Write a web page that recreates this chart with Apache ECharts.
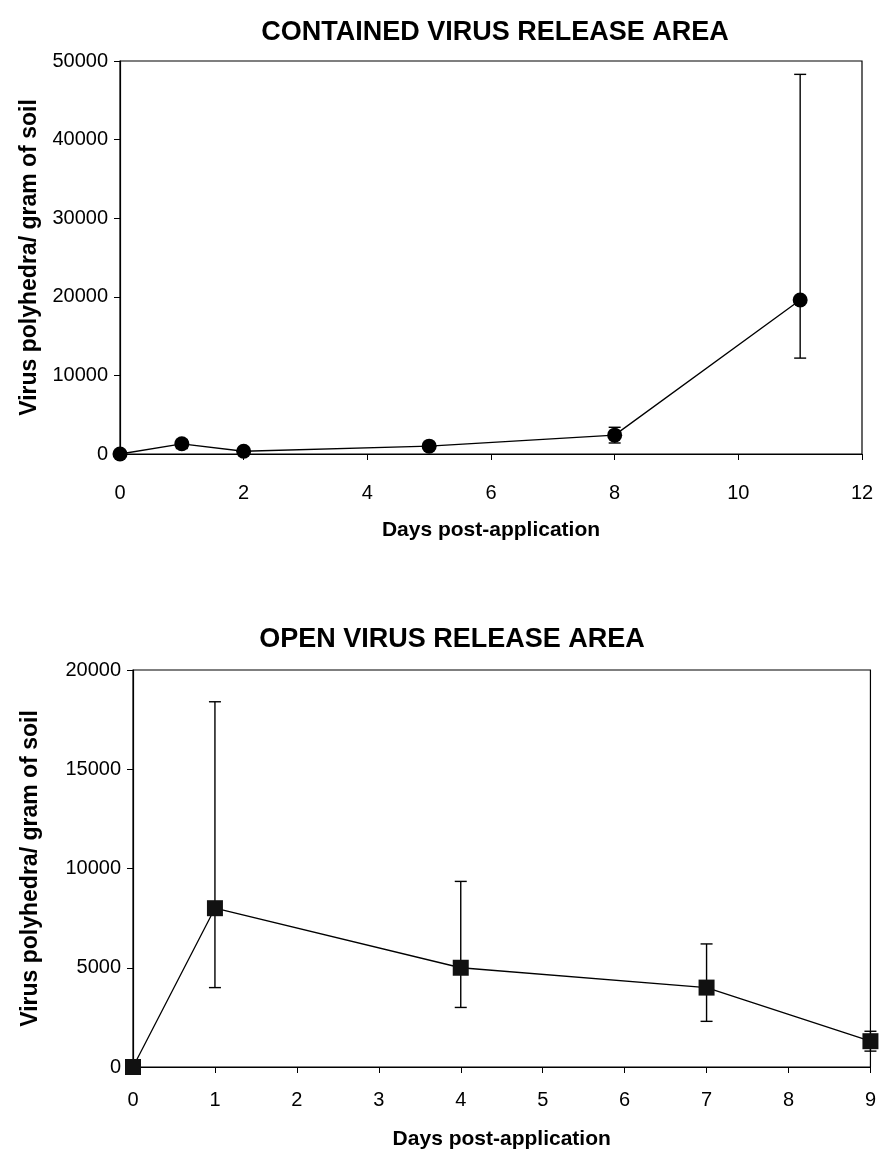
<!DOCTYPE html>
<html><head><meta charset="utf-8">
<script src="https://cdn.jsdelivr.net/npm/echarts@6/dist/echarts.min.js"></script>
<style>html,body{margin:0;padding:0;background:#fff}#c{width:879px;height:1157px}</style>
</head><body><div id="c"></div>
<script>
// Contained release area
const contDays = [0, 1, 2, 5, 8, 11];
const contMean = [0, 1300, 350, 1000, 2400, 19600];
const contLow  = [0, 700, 150, 700, 1400, 12200];
const contHigh = [0, 1800, 550, 1300, 3400, 48300];
const contXTicks = [0, 2, 4, 6, 8, 10, 12];
const contYTicks = [0, 10000, 20000, 30000, 40000, 50000];
// Open release area
const openDays = [0, 1, 4, 7, 9];
const openMean = [0, 8000, 5000, 4000, 1300];
const openLow  = [0, 4000, 3000, 2300, 800];
const openHigh = [0, 18400, 9350, 6200, 1800];
const openXTicks = [0, 1, 2, 3, 4, 5, 6, 7, 8, 9];
const openYTicks = [0, 5000, 10000, 15000, 20000];

const font = 'Liberation Sans, Arial, sans-serif';
const chart = echarts.init(document.getElementById('c'));

function errItem(params, api) {
  const x = api.value(0);
  const p1 = api.coord([x, api.value(1)]);
  const p2 = api.coord([x, api.value(2)]);
  const w = 6;
  const st = {stroke: '#000', lineWidth: 1.4};
  return {type: 'group', children: [
    {type: 'line', shape: {x1: p1[0], y1: p1[1], x2: p2[0], y2: p2[1]}, style: st},
    {type: 'line', shape: {x1: p1[0]-w, y1: p1[1], x2: p1[0]+w, y2: p1[1]}, style: st},
    {type: 'line', shape: {x1: p2[0]-w, y1: p2[1], x2: p2[0]+w, y2: p2[1]}, style: st}
  ]};
}

function xAxis(idx, ticks, nameGap, margin) {
  return {type: 'value', gridIndex: idx, min: ticks[0], max: ticks[ticks.length-1],
    interval: ticks[1] - ticks[0],
    name: 'Days post-application', nameLocation: 'middle', nameGap: nameGap,
    nameTextStyle: {fontFamily: font, fontSize: 21, fontWeight: 'bold', color: '#000'},
    axisLine: {lineStyle: {color: '#000', width: 1.2}},
    axisTick: {show: true, length: 6, inside: false, lineStyle: {color: '#000'}},
    axisLabel: {fontFamily: font, fontSize: 20, color: '#000', margin: margin,
      formatter: v => String(v)},
    splitLine: {show: false}};
}
function yAxis(idx, ticks, nameGap) {
  return {type: 'value', gridIndex: idx, min: ticks[0], max: ticks[ticks.length-1],
    interval: ticks[1] - ticks[0],
    name: 'Virus polyhedra/ gram of soil', nameLocation: 'middle', nameGap: nameGap, nameRotate: 90,
    nameTextStyle: {fontFamily: font, fontSize: 23, fontWeight: 'bold', color: '#000'},
    axisLine: {show: true, lineStyle: {color: '#000', width: 1.2}},
    axisTick: {show: true, length: 6, inside: false, lineStyle: {color: '#000'}},
    axisLabel: {fontFamily: font, fontSize: 20, color: '#000', margin: 12,
      formatter: v => String(v)},
    splitLine: {show: false}};
}

chart.setOption({
  animation: false,
  backgroundColor: '#fff',
  title: [
    {text: 'CONTAINED VIRUS RELEASE AREA', left: 490, top: 14, textAlign: 'center',
     textStyle: {fontFamily: font, fontSize: 27, fontWeight: 'bold', color: '#000'}},
    {text: 'OPEN VIRUS RELEASE AREA', left: 447, top: 621, textAlign: 'center',
     textStyle: {fontFamily: font, fontSize: 27, fontWeight: 'bold', color: '#000'}}
  ],
  grid: [
    {left: 120, top: 61, width: 742, height: 393, show: true, borderColor: '#000', borderWidth: 1.2},
    {left: 133, top: 670, width: 739, height: 397, show: true, borderColor: '#000', borderWidth: 1.2}
  ],
  xAxis: [xAxis(0, contXTicks, 66, 29), xAxis(1, openXTicks, 62, 23)],
  yAxis: [yAxis(0, contYTicks, 78), yAxis(1, openYTicks, 91)],
  series: [
    {type: 'custom', xAxisIndex: 0, yAxisIndex: 0, renderItem: errItem,
     data: contDays.map((d, i) => [d, contLow[i], contHigh[i]]), z: 3},
    {type: 'line', xAxisIndex: 0, yAxisIndex: 0, data: contDays.map((d, i) => [d, contMean[i]]),
     symbol: 'circle', symbolSize: 15, lineStyle: {color: '#000', width: 1.3},
     itemStyle: {color: '#000'}, z: 4},
    {type: 'custom', xAxisIndex: 1, yAxisIndex: 1, renderItem: errItem,
     data: openDays.map((d, i) => [d, openLow[i], openHigh[i]]), z: 3},
    {type: 'line', xAxisIndex: 1, yAxisIndex: 1, data: openDays.map((d, i) => [d, openMean[i]]),
     symbol: 'rect', symbolSize: 16, lineStyle: {color: '#000', width: 1.3},
     itemStyle: {color: '#111'}, z: 4}
  ]
});
</script></body></html>
